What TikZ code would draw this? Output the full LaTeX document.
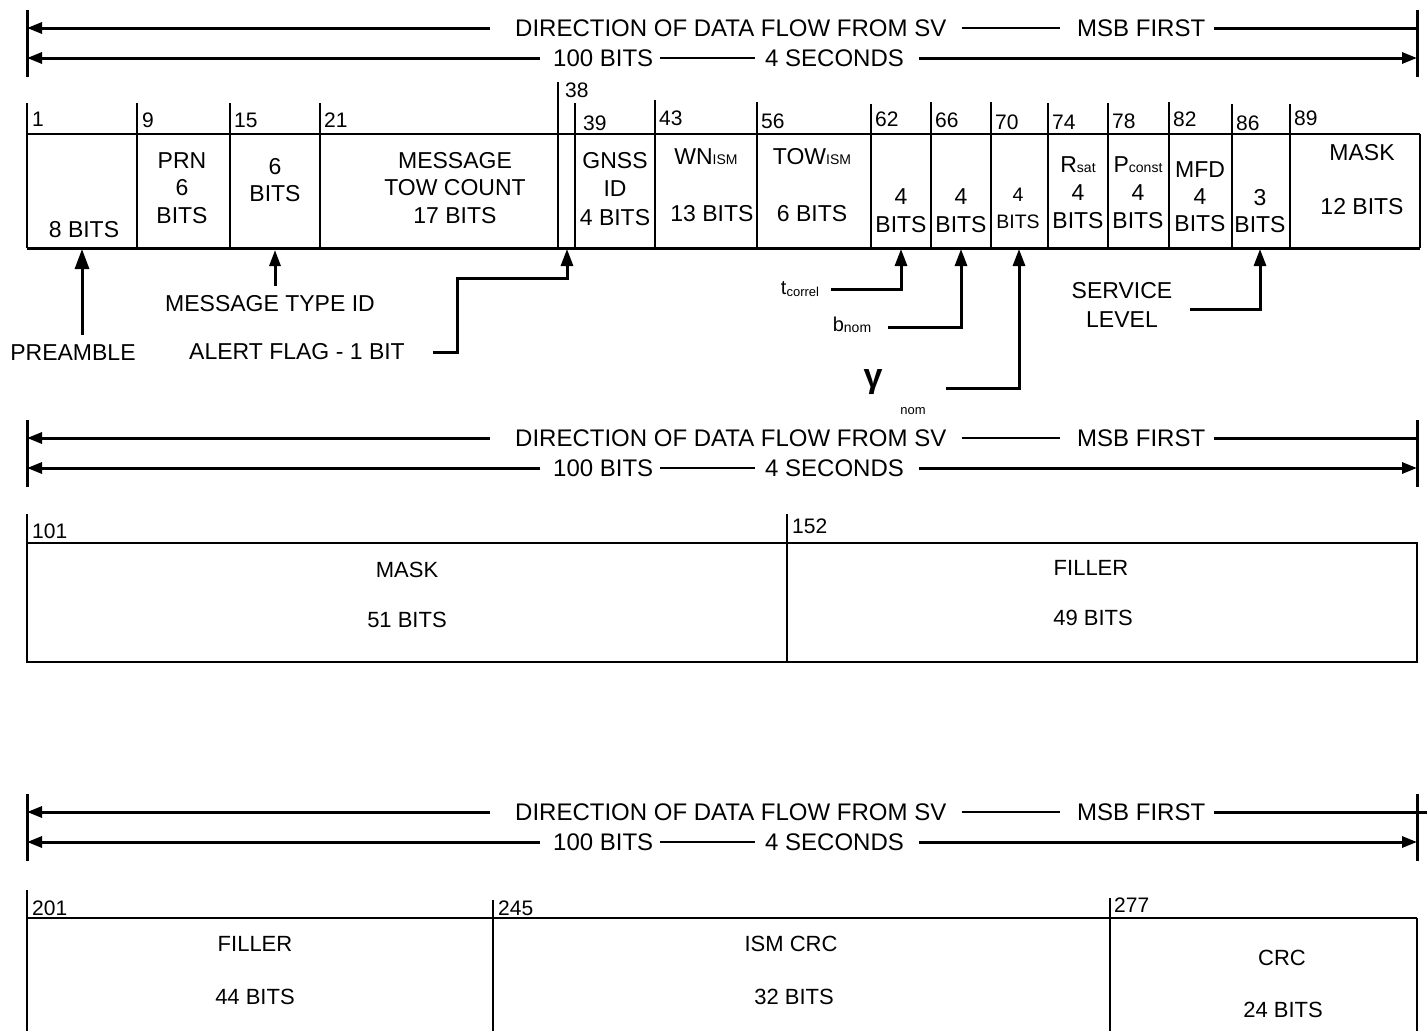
\documentclass[tikz,border=0pt]{standalone}
\usepackage{fontspec}
\setmainfont{Liberation Sans}
\usetikzlibrary{arrows.meta,calc}
\tikzset{
  hd/.style={font=\fontsize{24}{28}\selectfont, inner sep=0pt},
  fld/.style={font=\fontsize{23}{27.5}\selectfont, inner sep=0pt, align=center},
  fldb/.style={font=\fontsize{22}{26}\selectfont, inner sep=0pt, align=center},
  tk/.style={font=\fontsize{21}{24}\selectfont, inner sep=0pt, anchor=base west},
  hl/.style={line width=3pt},
  bx/.style={line width=2.6pt},
  harr/.style={-{Triangle[length=15pt,width=11pt]}},
  uparr/.style={line width=3pt, -{Triangle[length=17pt,width=12pt]}},
}
\newcommand\smallsub[1]{{\fontsize{14}{14}\selectfont #1}}
\newcommand\hdr[3]{%
\begin{scope}[yshift=-#2pt]
  \coordinate (#1LT) at (27,10);
  \coordinate (#1LB) at (27,77);
  \coordinate (#1RT) at (1417,10);
  \coordinate (#1RB) at (1417,77);
  \draw[hl] (#1LT) -- (#1LB);
  \draw[hl] (#1RT) -- (#1RB);
  \coordinate (#1La) at (27,28);
  \coordinate (#1Ra) at (#3,28);
  \coordinate (#1Lb) at (27,58);
  \coordinate (#1Rb) at (1417,58);
  \node[hd,anchor=west] (#1dir) at (515,28) {DIRECTION OF DATA FLOW FROM SV};
  \node[hd,anchor=west] (#1msb) at (1077,28) {MSB FIRST};
  \node[hd,anchor=west] (#1bit) at (553,58) {100 BITS};
  \node[hd,anchor=west] (#1sec) at (765,58) {4 SECONDS};
  \draw[hl,harr] ([xshift=-25pt]#1dir.west) -- (#1La);
  \draw[line width=2.2pt] ([xshift=15pt]#1dir.east) -- ([xshift=-17pt]#1msb.west);
  \draw[hl] ([xshift=9pt]#1msb.east) -- (#1Ra);
  \draw[hl,harr] ([xshift=-13pt]#1bit.west) -- (#1Lb);
  \draw[line width=2.2pt] ([xshift=7pt]#1bit.east) -- ([xshift=-10pt]#1sec.west);
  \draw[hl,harr] ([xshift=15pt]#1sec.east) -- (#1Rb);
\end{scope}}
\begin{document}
\begin{tikzpicture}[x=1pt,y=-1pt]
\useasboundingbox (0,0) rectangle (1427,1031);
\fill[white] (0,0) rectangle (1427,1031);

% ---------- headers
\hdr{a}{0}{1417}
\hdr{b}{410}{1417}
\hdr{c}{784}{1427}

% ---------- row 1
\coordinate (r1tl) at (27,134);
\coordinate (r1tr) at (1420,134);
\coordinate (r1bl) at (27,248);
\coordinate (r1br) at (1420,248);
\draw[bx] (r1tl) -- (r1tr);
\draw[line width=3pt] (r1bl) -- (r1br);
\draw[bx] (r1tr) -- (r1br);
\foreach \x/\t/\lab/\c/\d in {27/103/1/119/5, 137/103/9/120/5, 230/103/15/120/4,
  320/103/21/120/4, 558/82/38/90/7, 575/103/39/123/8, 655/100/43/118/4,
  757/102/56/121/4, 871/104/62/119/4, 931/102/66/120/4, 991/102/70/122/4,
  1048/103/74/122/4, 1108/103/78/121/4, 1169/102/82/119/4, 1232/104/86/123/4,
  1290/104/89/118/4}{
  \coordinate (tt\lab) at (\x,\t);
  \coordinate (tb\lab) at (\x,248);
  \draw[line width=2.8pt] (tt\lab) -- (tb\lab);
  \node[tk] (tn\lab) at (\x+\d,\c+7) {\lab};
}

\node[fld] (f1) at (84,230) {8 BITS};
\node[fld] (f9) at (182,188) {PRN\\6\\BITS};
\node[fld] (f15) at (275,180) {6\\BITS};
\node[fld] (f21) at (455,188) {MESSAGE\\TOW COUNT\\17 BITS};
\node[fld, font=\fontsize{23}{28.5}\selectfont] (f39) at (615,189) {GNSS\\ID\\4 BITS};
\node[fld] (f43a) at (706,157) {WN\smallsub{ISM}};
\node[fld] (f43b) at (712,214) {13 BITS};
\node[fld] (f56a) at (812,157) {TOW\smallsub{ISM}};
\node[fld] (f56b) at (812,214) {6 BITS};
\node[fld, font=\fontsize{23}{28}\selectfont] (f62) at (901,211) {4\\BITS};
\node[fld, font=\fontsize{23}{28}\selectfont] (f66) at (961,211) {4\\BITS};
\node[fld, font=\fontsize{19.5}{27}\selectfont] (f70) at (1018,208) {4\\BITS};
\node[fld, font=\fontsize{23}{28}\selectfont] (f74) at (1078,193) {R\smallsub{sat}\\4\\BITS};
\node[fld, font=\fontsize{23}{28}\selectfont] (f78) at (1138,193) {P\smallsub{const}\\4\\BITS};
\node[fld, font=\fontsize{23}{27}\selectfont] (f82) at (1200,197) {MFD\\4\\BITS};
\node[fld, font=\fontsize{23}{27}\selectfont] (f86) at (1260,211) {3\\BITS};
\node[fld] (f89a) at (1362,153) {MASK};
\node[fld] (f89b) at (1362,207) {12 BITS};

% ---------- pointers below row 1
\node[fld] (pre) at (73,353) {PREAMBLE};
\coordinate (preS) at (82,335);
\coordinate (preT) at (82,249);
\draw[uparr, -{Triangle[length=20pt,width=14pt]}] (preS) -- (preT);

\node[fld] (mti) at (270,304) {MESSAGE TYPE ID};
\coordinate (mtiS) at (275,286);
\coordinate (mtiT) at (275,250);
\draw[uparr, -{Triangle[length=16pt,width=11pt]}] (mtiS) -- (mtiT);

\node[fld] (alert) at (297,352) {ALERT FLAG - 1 BIT};
\coordinate (alT) at (567,249);
\coordinate (alK) at (457,278);
\draw[uparr] ([xshift=28pt]alert.east) -| (alK) -| (alT);

\node[inner sep=0pt, anchor=base] (tc) at (800,294) {\fontsize{20}{20}\selectfont t\raisebox{-2pt}{\fontsize{13}{13}\selectfont correl}};
\coordinate (tcT) at (901,249);
\draw[uparr] ([xshift=12pt]tc.east |- 0,289) -| (tcT);

\node[inner sep=0pt, anchor=base] (bn) at (852,331) {\fontsize{20}{20}\selectfont b\raisebox{-1pt}{\fontsize{14}{14}\selectfont nom}};
\coordinate (bnT) at (961,249);
\draw[uparr] ([xshift=17pt]bn.east |- 0,327) -| (bnT);

\node[inner sep=0pt, font=\fontsize{34}{34}\selectfont\bfseries] (gam) at (873,382) {γ};
\node[inner sep=0pt, font=\fontsize{13}{13}\selectfont] (gamsub) at (913,411) {nom};
\coordinate (gmS) at (946,388);
\coordinate (gmT) at (1019,249);
\draw[uparr] (gmS) -| (gmT);

\node[fld, font=\fontsize{23}{29}\selectfont] (svc) at (1122,305) {SERVICE\\LEVEL};
\coordinate (svS) at (1190,309);
\coordinate (svT) at (1260,249);
\draw[uparr] (svS) -| (svT);

% ---------- row 2
\coordinate (r2tl) at (27,543);
\coordinate (r2br) at (1417,662);
\draw[bx] (r2tl) rectangle (r2br);
\coordinate (t101) at (27,514);
\draw[line width=2.8pt] (t101) -- (r2tl);
\coordinate (t152) at (787,514);
\coordinate (b152) at (787,662);
\draw[line width=2.8pt] (t152) -- (b152);
\node[tk] (n101) at (32,538) {101};
\node[tk] (n152) at (792,533) {152};
\node[fldb] (m2a) at (407,570) {MASK};
\node[fldb] (m2b) at (407,620) {51 BITS};
\node[fldb] (fi2a) at (1091,568) {FILLER};
\node[fldb] (fi2b) at (1093,618) {49 BITS};

% ---------- row 3
\coordinate (r3tl) at (27,918);
\coordinate (r3tr) at (1417,918);
\coordinate (r3bl) at (27,1031);
\coordinate (r3br) at (1417,1031);
\coordinate (t201) at (27,890);
\draw[bx] (r3tl) -- (r3tr);
\draw[line width=2.8pt] (t201) -- (r3bl);
\draw[bx] (r3tr) -- (r3br);
\coordinate (t245) at (493,900);
\coordinate (b245) at (493,1031);
\coordinate (t277) at (1110,898);
\coordinate (b277) at (1110,1031);
\draw[line width=2.8pt] (t245) -- (b245);
\draw[line width=2.8pt] (t277) -- (b277);
\node[tk] (n201) at (32,915) {201};
\node[tk] (n245) at (498,915) {245};
\node[tk] (n277) at (1114,912) {277};
\node[fldb] (fi3a) at (255,944) {FILLER};
\node[fldb] (fi3b) at (255,997) {44 BITS};
\node[fldb] (ic3a) at (791,944) {ISM CRC};
\node[fldb] (ic3b) at (794,997) {32 BITS};
\node[fldb] (cr3a) at (1282,958) {CRC};
\node[fldb] (cr3b) at (1283,1010) {24 BITS};
\end{tikzpicture}
\end{document}
